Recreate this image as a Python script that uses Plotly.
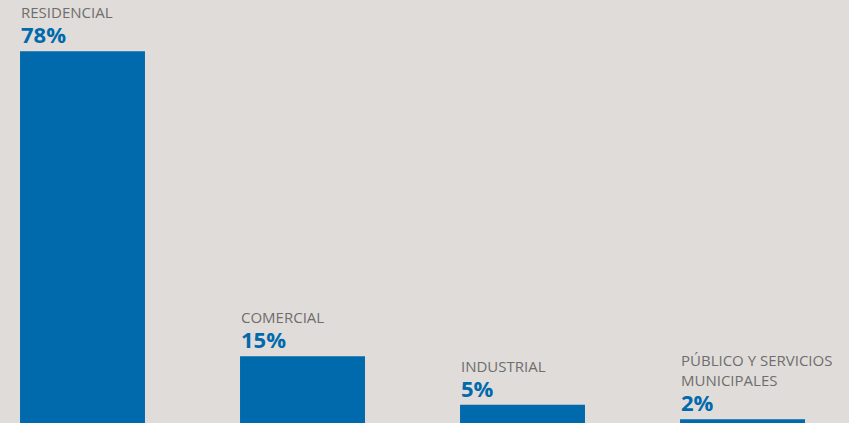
import plotly.graph_objects as go

categories = ["RESIDENCIAL", "COMERCIAL", "INDUSTRIAL", "PÚBLICO Y SERVICIOS<br>MUNICIPALES"]
values = [78, 15, 5, 2]
value_labels = ["78%", "15%", "5%", "2%"]

BLUE = "#006aad"
GRAY = "#6e6e6e"
BG = "#e0dcd9"
W = 0.568

xs = list(range(len(values)))
fig = go.Figure(go.Bar(x=xs, y=values, width=W, marker=dict(color=BLUE, line=dict(width=0)),
                       hoverinfo="skip"))

for x, v, cat, lab in zip(xs, values, categories, value_labels):
    fig.add_annotation(x=x - W / 2, y=v, xref="x", yref="y", text=f"<b>{lab}</b>",
                       showarrow=False, xanchor="left", yanchor="bottom", yshift=1, xshift=0,
                       borderpad=0,
                       font=dict(family="Open Sans", size=22, color=BLUE))
    fig.add_annotation(x=x - W / 2, y=v, xref="x", yref="y", text=cat,
                       showarrow=False, xanchor="left", yanchor="bottom", yshift=28, xshift=0,
                       align="left", borderpad=0,
                       font=dict(family="Open Sans", size=15, color=GRAY))

fig.update_layout(
    width=849, height=423,
    margin=dict(l=0, r=0, t=0, b=0),
    paper_bgcolor=BG, plot_bgcolor=BG,
    showlegend=False,
    xaxis=dict(range=[-0.375, 3.484], visible=False),
    yaxis=dict(range=[1.24, 88.6], visible=False),
)
fig.write_html("out.html", config={"displayModeBar": False, "staticPlot": True},
               post_script="document.body.style.margin='0';document.body.style.background='#e0dcd9';document.body.style.overflow='hidden';")
